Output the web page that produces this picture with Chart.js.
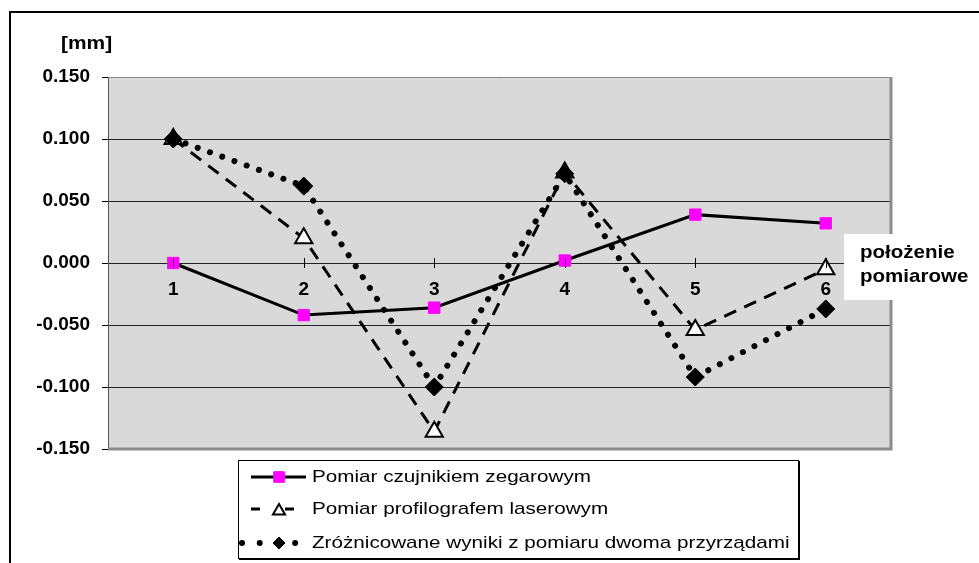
<!DOCTYPE html>
<html>
<head>
<meta charset="utf-8">
<script src="https://cdn.jsdelivr.net/npm/chart.js@4.4.1/dist/chart.umd.min.js"></script>
<style>
  body { margin: 0; background: #fff; }
  canvas { display: block; }
</style>
</head>
<body>
<canvas id="myChart" width="979" height="563"></canvas>
<script>
// measuring positions along the profile
const positions = ['1', '2', '3', '4', '5', '6'];

// readings [mm]
const dialGauge = [0.000, -0.042, -0.036, 0.002, 0.039, 0.032];
const laserProfilograph = [0.100, 0.020, -0.136, 0.073, -0.054, -0.005];
const difference = [0.100, 0.062, -0.100, 0.072, -0.092, -0.037];

const seriesNames = [
    'Pomiar czujnikiem zegarowym',
    'Pomiar profilografem laserowym',
    'Zróżnicowane wyniki z pomiaru dwoma przyrządami'
];

const yMin = -0.15;
const yMax = 0.15;
const yStep = 0.05;

const FONT = "'Liberation Sans', Arial, sans-serif";

// text in the original is a bit wider than Arial, so stretch it horizontally
function wideText(ctx, text, x, y, stretch) {
    ctx.save();
    ctx.translate(x, y);
    ctx.scale(stretch, 1);
    ctx.fillText(text, 0, 0);
    ctx.restore();
}

// background, frame, labels and legend drawn around the plot
const decorations = {
    id: 'decorations',
    beforeDraw(chart) {
        const ctx = chart.ctx;
        const a = chart.chartArea;
        ctx.save();
        ctx.fillStyle = '#fff';
        ctx.fillRect(0, 0, chart.width, chart.height);
        // outer frame (left + top)
        ctx.strokeStyle = '#000';
        ctx.lineWidth = 2;
        ctx.beginPath();
        ctx.moveTo(10, chart.height);
        ctx.lineTo(10, 12);
        ctx.lineTo(chart.width, 12);
        ctx.stroke();
        // plot area
        ctx.fillStyle = '#d9d9d9';
        ctx.fillRect(a.left, a.top, a.right - a.left, a.bottom - a.top);
        ctx.restore();
    },
    afterDatasetsDraw(chart) {
        const ctx = chart.ctx;
        const a = chart.chartArea;
        const x = chart.scales.x;
        const y = chart.scales.y;
        ctx.save();

        // plot border
        ctx.strokeStyle = '#8c8c8c';
        ctx.lineWidth = 1;
        ctx.beginPath();
        ctx.moveTo(a.left, a.top + 0.5);
        ctx.lineTo(a.right, a.top + 0.5);
        ctx.stroke();
        ctx.lineWidth = 3;
        ctx.beginPath();
        ctx.moveTo(a.left, a.bottom);
        ctx.lineTo(a.right, a.bottom);
        ctx.lineTo(a.right, a.top);
        ctx.stroke();

        // category ticks crossing the zero line
        const y0 = y.getPixelForValue(0);
        ctx.strokeStyle = '#000';
        ctx.lineWidth = 1;
        ctx.beginPath();
        positions.forEach((p, i) => {
            const px = Math.round(x.getPixelForValue(i)) + 0.5;
            ctx.moveTo(px, y0 - 5);
            ctx.lineTo(px, y0 + 5);
        });
        ctx.stroke();

        ctx.restore();
    },
    afterDraw(chart) {
        const ctx = chart.ctx;
        ctx.save();

        // unit label
        ctx.fillStyle = '#000';
        ctx.font = 'bold 19px ' + FONT;
        ctx.textBaseline = 'middle';
        ctx.textAlign = 'left';
        wideText(ctx, '[mm]', 61, 44, 1.1);

        // x axis title in a white box
        ctx.fillStyle = '#fff';
        ctx.fillRect(844, 234, 130, 66);
        ctx.fillStyle = '#000';
        wideText(ctx, 'położenie', 860, 253, 1.08);
        wideText(ctx, 'pomiarowe', 860, 277, 1.08);

        // legend
        ctx.fillStyle = '#fff';
        ctx.fillRect(238, 460, 561, 99);
        ctx.strokeStyle = '#000';
        ctx.lineWidth = 1;
        ctx.strokeRect(238.5, 460.5, 560, 98);
        ctx.lineWidth = 2;
        ctx.beginPath();
        ctx.moveTo(799, 461);
        ctx.lineTo(799, 559);
        ctx.lineTo(239, 559);
        ctx.stroke();

        const rows = [477, 509, 543];
        const samples = [
            { from: 251, to: 306, dash: [] },
            { from: 251, to: 294, dash: [9, 25] },
            { from: 242, to: 296, dash: [0.01, 17.7] }
        ];
        const legendRadius = { rect: 7.5, triangle: 7, rectRot: 6 };
        chart.data.datasets.forEach((ds, i) => {
            const ry = rows[i];
            const s = samples[i];
            ctx.save();
            ctx.strokeStyle = ds.borderColor;
            ctx.lineWidth = ds.borderWidth;
            ctx.lineCap = ds.borderCapStyle || 'butt';
            ctx.setLineDash(s.dash);
            ctx.beginPath();
            ctx.moveTo(s.from, ry);
            ctx.lineTo(s.to, ry);
            ctx.stroke();
            ctx.restore();

            ctx.save();
            ctx.fillStyle = ds.pointBackgroundColor;
            ctx.strokeStyle = ds.pointBorderColor;
            ctx.lineWidth = ds.pointBorderWidth;
            Chart.helpers.drawPoint(ctx, {
                pointStyle: ds.pointStyle,
                radius: legendRadius[ds.pointStyle],
                rotation: 0,
                borderWidth: ds.pointBorderWidth
            }, 279, ry + (ds.pointStyle === 'triangle' ? 2 : 0));
            ctx.restore();

            ctx.fillStyle = '#000';
            ctx.font = '17px ' + FONT;
            ctx.textAlign = 'left';
            ctx.textBaseline = 'middle';
            wideText(ctx, ds.label, 312, ry, 1.215);
        });

        ctx.restore();
    }
};

const ctx = document.getElementById('myChart').getContext('2d');

const myChart = new Chart(ctx, {
    type: 'line',
    data: {
        labels: positions,
        datasets: [{
            label: seriesNames[0],
            data: dialGauge,
            borderColor: '#000',
            borderWidth: 3,
            pointStyle: 'rect',
            pointRadius: 8,
            pointHoverRadius: 8,
            pointBackgroundColor: '#ff00ff',
            pointBorderColor: '#ff00ff',
            pointBorderWidth: 1,
            order: 2
        }, {
            label: seriesNames[1],
            data: laserProfilograph,
            borderColor: '#000',
            borderWidth: 3,
            borderDash: [13, 9],
            pointStyle: 'triangle',
            pointRadius: 10,
            pointHoverRadius: 10,
            pointBackgroundColor: '#fff',
            pointBorderColor: '#000',
            pointBorderWidth: 2,
            order: 1
        }, {
            label: seriesNames[2],
            data: difference,
            borderColor: '#000',
            borderWidth: 6,
            borderDash: [0.01, 13],
            borderCapStyle: 'round',
            pointStyle: 'rectRot',
            pointRadius: 9,
            pointHoverRadius: 9,
            pointBackgroundColor: '#000',
            pointBorderColor: '#000',
            pointBorderWidth: 1,
            order: 0
        }]
    },
    options: {
        responsive: false,
        animation: false,
        devicePixelRatio: 1,
        layout: {
            padding: { left: 0, top: 77, right: 88, bottom: 114 }
        },
        plugins: {
            legend: { display: false },
            tooltip: { enabled: false }
        },
        scales: {
            x: {
                type: 'category',
                offset: true,
                position: { y: 0 },
                border: { display: false },
                grid: { display: false, drawTicks: false },
                ticks: {
                    color: '#000',
                    padding: 15,
                    maxRotation: 0,
                    font: { family: FONT, size: 19, weight: 'bold' }
                }
            },
            y: {
                min: yMin,
                max: yMax,
                border: { display: true, color: '#555', width: 1 },
                grid: {
                    color: '#222',
                    lineWidth: 1,
                    tickLength: 6,
                    tickColor: '#000'
                },
                ticks: {
                    stepSize: yStep,
                    color: '#000',
                    padding: 12,
                    font: { family: FONT, size: 19, weight: 'bold' },
                    callback: v => (Math.abs(v) < 1e-9 ? 0 : v).toFixed(3)
                },
                afterFit(scale) { scale.width = 108; }
            }
        }
    },
    plugins: [decorations]
});
</script>
</body>
</html>
